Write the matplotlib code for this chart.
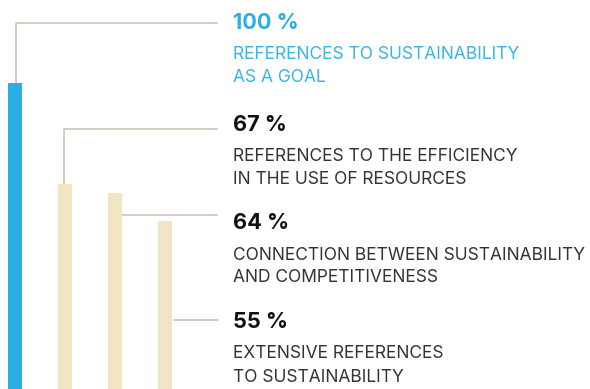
import matplotlib
matplotlib.use("Agg")
import matplotlib.pyplot as plt

# survey results (% of documents)
values = [100, 67, 64, 55]
numbers = ["100 %", "67 %", "64 %", "55 %"]
labels = [
    "REFERENCES TO SUSTAINABILITY\nAS A GOAL",
    "REFERENCES TO THE EFFICIENCY\nIN THE USE OF RESOURCES",
    "CONNECTION BETWEEN SUSTAINABILITY\nAND COMPETITIVENESS",
    "EXTENSIVE REFERENCES\nTO SUSTAINABILITY",
]

blue = "#2aaee4"
beige = "#f1e5c3"
leader = "#c9beb2"
bar_colors = [blue, beige, beige, beige]
num_colors = [blue, "#111111", "#111111", "#111111"]
lab_colors = ["#3bb3e6", "#333333", "#333333", "#333333"]

W, H = 590, 389
scale = 3.06  # pixels per percent point

def py(p):
    # pixel row (from top) -> data y
    return (H - p) / scale

fig = plt.figure(figsize=(W / 100, H / 100), dpi=100)
ax = fig.add_axes([0, 0, 1, 1])
ax.set_xlim(0, W)
ax.set_ylim(0, H / scale)
ax.axis("off")

xs = [15, 65, 115, 165]
bw = 13.5
ax.bar(xs, values, width=bw, color=bar_colors, zorder=2)

lw = 1.1
# leader lines from each bar to its annotation
ax.plot([16, 16, 217], [values[0], py(23.5), py(23.5)], color=leader, lw=lw, zorder=1)
ax.plot([63.5, 63.5, 217], [values[1], py(129), py(129)], color=leader, lw=lw, zorder=1)
ax.plot([xs[2] + bw / 2, 217], [py(215), py(215)], color=leader, lw=lw, zorder=1)
ax.plot([174, 218], [py(320), py(320)], color=leader, lw=lw, zorder=1)

num_y = [23, 125, 223, 322]
tx = 233
fam = ["Inter", "DejaVu Sans"]
for i in range(4):
    ax.text(tx, py(num_y[i]), numbers[i], fontsize=15.6, fontweight="bold",
            family=fam, color=num_colors[i], va="center", ha="left")
    l1, l2 = labels[i].split("\n")
    ax.text(tx, py(num_y[i] + 32), l1, fontsize=12.5, family=fam,
            color=lab_colors[i], va="center", ha="left")
    ax.text(tx, py(num_y[i] + 55), l2, fontsize=12.5, family=fam,
            color=lab_colors[i], va="center", ha="left")

fig.savefig("out.png", dpi=100)
